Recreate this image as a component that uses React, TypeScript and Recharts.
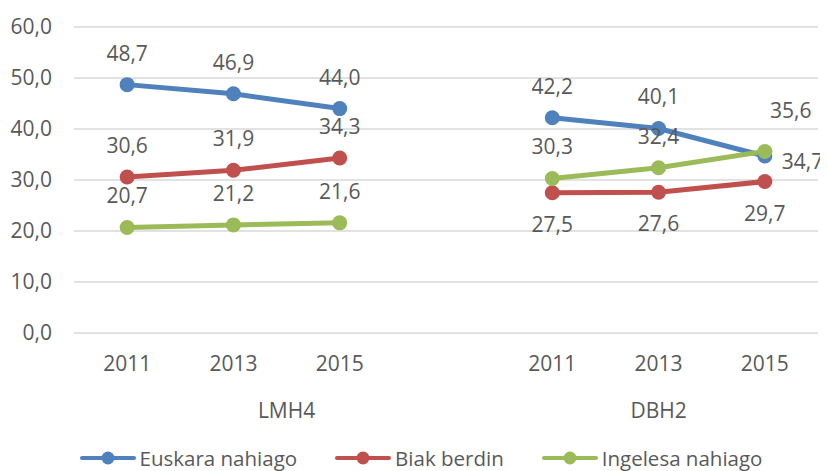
import { CartesianGrid, LabelList, Legend, Line, LineChart, XAxis, YAxis } from "recharts";

const years = ["2011", "2013", "2015", "", "2011", "2013", "2015"];
const groups = [
  { label: "LMH4", from: 0, to: 3 },
  { label: "DBH2", from: 4, to: 6 },
];
const euskara = [48.7, 46.9, 44.0, null, 42.2, 40.1, 34.7];
const biak = [30.6, 31.9, 34.3, null, 27.5, 27.6, 29.7];
const ingelesa = [20.7, 21.2, 21.6, null, 30.3, 32.4, 35.6];
const yTicks = [0, 10, 20, 30, 40, 50, 60];

const series = [
  { key: "euskara", name: "Euskara nahiago", color: "#4f81bd" },
  { key: "biak", name: "Biak berdin", color: "#c0504d" },
  { key: "ingelesa", name: "Ingelesa nahiago", color: "#9bbb59" },
];

const data = years.map((year, i) => ({
  year,
  euskara: euskara[i],
  biak: biak[i],
  ingelesa: ingelesa[i],
}));

const W = 820;
const H = 463;
const margin = { top: 19, right: 10, left: 0, bottom: 0 };
const yWidth = 66;
const band = (W - margin.left - margin.right - yWidth) / years.length;
const textColor = "#595959";
const fontSize = 21;

const fmt = (v: number) => v.toFixed(1).replace(".", ",");

// where each data label sits relative to its point
function labelPos(key: string, index: number) {
  if (key === "biak" && index >= 4) return { dx: 0, dy: 31, anchor: "middle" };
  if (key === "ingelesa" && index === 6) return { dx: 26, dy: -41, anchor: "middle" };
  if (key === "euskara" && index === 6) return { dx: 17, dy: 5, anchor: "start" };
  return { dx: 0, dy: -32, anchor: "middle" };
}

function makeLabel(key: string) {
  return (props: any) => {
    const { x, y, value, index } = props;
    if (value == null) return null;
    const p = labelPos(key, index);
    return (
      <text
        x={x + p.dx}
        y={y + p.dy}
        textAnchor={p.anchor}
        dominantBaseline="central"
        fill={textColor}
        fontSize={fontSize}
      >
        {fmt(value)}
      </text>
    );
  };
}

function XTick(props: any) {
  const { x, y, payload, index } = props;
  const g = groups.find((gr) => gr.from === index);
  return (
    <g>
      <text x={x} y={y + 30} textAnchor="middle" dominantBaseline="central" fill={textColor} fontSize={fontSize}>
        {payload.value}
      </text>
      {g && (
        <text
          x={x + ((g.to - g.from) / 2) * band}
          y={y + 77}
          textAnchor="middle"
          dominantBaseline="central"
          fill={textColor}
          fontSize={fontSize}
        >
          {g.label}
        </text>
      )}
    </g>
  );
}

function LegendContent() {
  return (
    <div
      style={{
        display: "flex",
        justifyContent: "center",
        gap: 38,
        height: 26,
        lineHeight: "26px",
        paddingLeft: 16,
      }}
    >
      {series.map((s) => (
        <div key={s.key} style={{ display: "flex", alignItems: "center" }}>
          <svg width={56} height={16} style={{ marginRight: 4 }}>
            <line x1={2} y1={8} x2={54} y2={8} stroke={s.color} strokeWidth={4} strokeLinecap="round" />
            <circle cx={28} cy={8} r={6.5} fill={s.color} />
          </svg>
          <span style={{ color: textColor, fontSize: 20.5 }}>{s.name}</span>
        </div>
      ))}
    </div>
  );
}

export default function App() {
  return (
    <div style={{ width: W, height: H, fontFamily: "'Open Sans', sans-serif" }}>
      <LineChart width={W} height={H} data={data} margin={margin}>
        <CartesianGrid vertical={false} stroke="#d9d9d9" strokeWidth={1.5} />
        <XAxis
          dataKey="year"
          interval={0}
          padding={{ left: band / 2, right: band / 2 }}
          axisLine={false}
          tickLine={false}
          tickSize={0}
          tickMargin={0}
          height={112}
          tick={<XTick />}
        />
        <YAxis
          domain={[0, 60]}
          ticks={yTicks}
          tickFormatter={fmt}
          axisLine={false}
          tickLine={false}
          tickMargin={16}
          width={yWidth}
          tick={{ fill: textColor, fontSize }}
        />
        <Legend
          verticalAlign="bottom"
          height={26}
          wrapperStyle={{ bottom: 0 }}
          content={<LegendContent />}
        />
        {series.map((s) => (
          <Line
            key={s.key}
            dataKey={s.key}
            name={s.name}
            stroke={s.color}
            strokeWidth={5}
            dot={{ r: 7.5, fill: s.color, stroke: s.color, strokeWidth: 0 }}
            activeDot={false}
            connectNulls={false}
            isAnimationActive={false}
          >
            <LabelList dataKey={s.key} content={makeLabel(s.key)} />
          </Line>
        ))}
      </LineChart>
    </div>
  );
}
